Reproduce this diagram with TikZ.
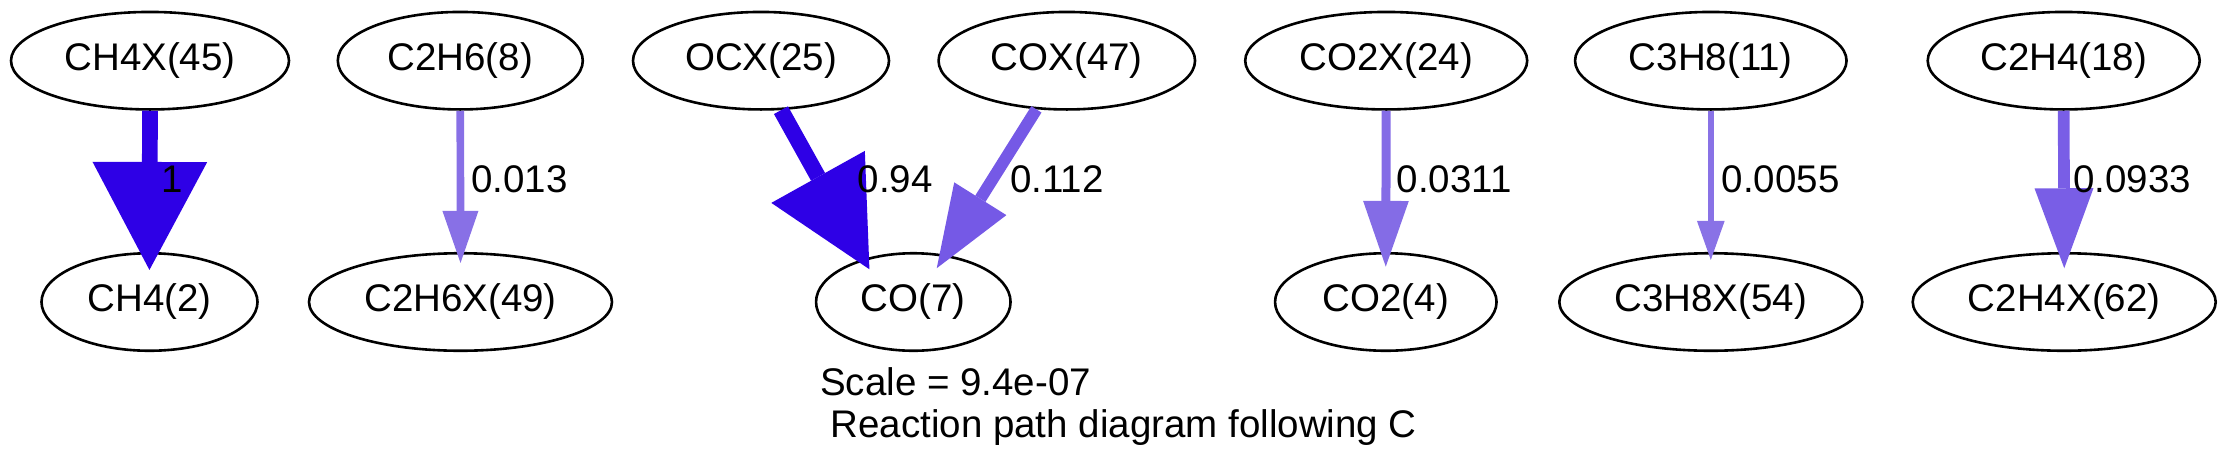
\documentclass[tikz,border=0pt]{standalone}
\usepackage{fontspec}
\setmainfont{Liberation Sans}
\usetikzlibrary{arrows.meta,shapes.geometric}
\definecolor{fluxfull}{HTML}{2E00E6}
\definecolor{fluxcox}{HTML}{7559E6}
\definecolor{fluxethene}{HTML}{795EE6}
\definecolor{fluxcotwo}{HTML}{846CE6}
\definecolor{fluxethane}{HTML}{8870E6}
\definecolor{fluxpropane}{HTML}{8972E6}
\tikzset{
  species/.style={draw=black, line width=2.6pt, ellipse, inner sep=0pt,
    minimum height=97.5pt, font=\fontsize{38.5}{46}\selectfont},
  fluxlabel/.style={anchor=base west, inner sep=0pt, font=\fontsize{38.5}{46}\selectfont},
  titletext/.style={anchor=base west, inner sep=0pt, font=\fontsize{38.5}{46}\selectfont},
  fluxedge/.style={line cap=butt},
}
\begin{document}
\begin{tikzpicture}[x=1pt,y=-1pt]
\useasboundingbox (0,0) rectangle (2227,469);
% species nodes
\node[species, minimum width=278pt] (ch4x) at (150,60.7) {CH4X(45)};
\node[species, minimum width=216pt] (ch4) at (149.5,302) {CH4(2)};
\node[species, minimum width=245pt] (c2h6) at (460.3,60.7) {C2H6(8)};
\node[species, minimum width=303pt] (c2h6x) at (460.5,302) {C2H6X(49)};
\node[species, minimum width=256pt] (ocx) at (761,60.7) {OCX(25)};
\node[species, minimum width=256.5pt] (cox) at (1066.8,60.7) {COX(47)};
\node[species, minimum width=194.5pt] (co) at (913.3,302) {CO(7)};
\node[species, minimum width=282pt] (co2x) at (1386.2,60.7) {CO2X(24)};
\node[species, minimum width=221.5pt] (co2) at (1385.8,302) {CO2(4)};
\node[species, minimum width=271.5pt] (c3h8) at (1710.8,60.7) {C3H8(11)};
\node[species, minimum width=303pt] (c3h8x) at (1710.8,302) {C3H8X(54)};
\node[species, minimum width=272pt] (c2h4) at (2063.7,60.7) {C2H4(18)};
\node[species, minimum width=303pt] (c2h4x) at (2064.2,302) {C2H4X(62)};
% connectors
\draw[fluxedge, fluxfull, line width=15.7pt,
  -{Triangle[length=108pt,width=114.7pt,line width=0pt]}, shorten >=-18pt]
  (ch4x.south) -- (ch4.north);
\draw[fluxedge, fluxethane, line width=7.7pt,
  -{Triangle[length=52pt,width=36pt,line width=0pt]}, shorten >=-11pt]
  (c2h6.south) -- (c2h6x.north);
\draw[fluxedge, fluxfull, line width=16pt,
  -{Triangle[length=105.7pt,width=107pt,line width=0pt]}, shorten >=-12pt]
  (ocx.-68.5) -- (co.139);
\draw[fluxedge, fluxcox, line width=12pt,
  -{Triangle[length=82pt,width=61.6pt,line width=0pt]}, shorten >=-16pt]
  (cox.-122) -- (co.56.6);
\draw[fluxedge, fluxcotwo, line width=9pt,
  -{Triangle[length=65.7pt,width=45.7pt,line width=0pt]}, shorten >=-14.7pt]
  (co2x.south) -- (co2.north);
\draw[fluxedge, fluxpropane, line width=5.7pt,
  -{Triangle[length=39pt,width=27.7pt,line width=0pt]}, shorten >=-8pt]
  (c3h8.south) -- (c3h8x.north);
\draw[fluxedge, fluxethene, line width=11.7pt,
  -{Triangle[length=80pt,width=59pt,line width=0pt]}, shorten >=-16.3pt]
  (c2h4.south) -- (c2h4x.north);
% edge labels
\node[fluxlabel] (lab1) at (161,192) {1};
\node[fluxlabel] (lab2) at (471,192) {0.013};
\node[fluxlabel] (lab3) at (857.5,192) {0.94};
\node[fluxlabel] (lab4) at (1010,192) {0.112};
\node[fluxlabel] (lab5) at (1396.5,192) {0.0311};
\node[fluxlabel] (lab6) at (1721.5,192) {0.0055};
\node[fluxlabel] (lab7) at (2073,192) {0.0933};
% title
\node[titletext] (title1) at (820,395) {Scale = 9.4e-07};
\node[titletext] (title2) at (830.3,437) {Reaction path diagram following C};
\end{tikzpicture}
\end{document}
